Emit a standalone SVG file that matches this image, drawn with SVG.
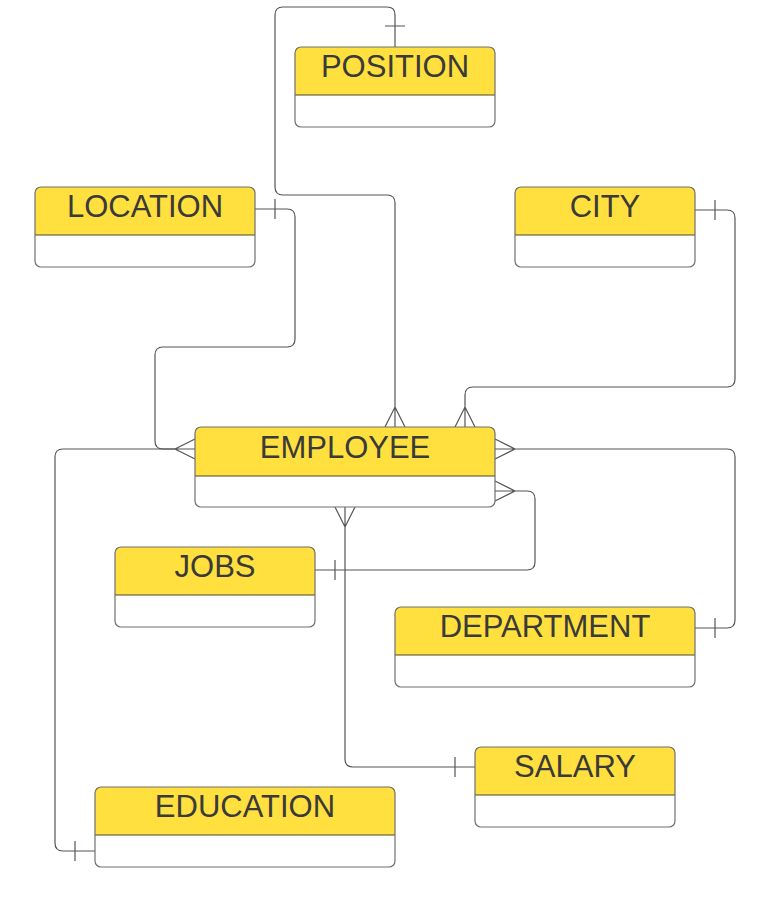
<svg xmlns="http://www.w3.org/2000/svg" width="765" height="921" viewBox="0 0 765 921">
<style>
.bg{fill:#ffffff}
.hd{fill:#FFE03E}
.bx{fill:none;stroke:#707070;stroke-width:1.2}
.sep{stroke:#4a4a2a;stroke-width:1.2}
.t{font-family:"Liberation Sans",Arial,sans-serif;font-size:31px;fill:#3a3a3a;text-anchor:middle}
.c{fill:none;stroke:#555555;stroke-width:1.2}
</style>
<rect width="765" height="921" fill="#ffffff"/>
<g id="connectors">
<path class="c" d="M395,47 V15 Q395,7 387,7 H283 Q275,7 275,15 V187 Q275,195 283,195 H387 Q395,195 395,203 V427 M385,26 H405 M385,427 L395,407 L405,427"/>
<path class="c" d="M255,209 H287 Q295,209 295,217 V339 Q295,347 287,347 H163 Q155,347 155,355 V441 Q155,449 163,449 H195 M275,199 V219 M195,439 L175,449 L195,459"/>
<path class="c" d="M695,210 H727 Q735,210 735,218 V379 Q735,387 727,387 H473 Q465,387 465,395 V427 M715,200 V220 M455,427 L465,407 L475,427"/>
<path class="c" d="M495,449 H727 Q735,449 735,457 V620 Q735,628 727,628 H695 M715,618 V638 M495,439 L515,449 L495,459"/>
<path class="c" d="M495,491 H527 Q535,491 535,499 V562 Q535,570 527,570 H315 M335,560 V580 M495,481 L515,491 L495,501"/>
<path class="c" d="M345,507 V759 Q345,767 353,767 H475 M455,757 V777 M335,507 L345,527 L355,507"/>
<path class="c" d="M95,851 H63 Q55,851 55,843 V457 Q55,449 63,449 H175 M75,841 V861"/>
</g>
<g id="position">
<rect class="bg" x="295" y="47" width="200" height="80" rx="6"/>
<path class="hd" d="M295,95 V53 Q295,47 301,47 H489 Q495,47 495,53 V95 Z"/>
<line class="sep" x1="295" y1="95" x2="495" y2="95"/>
<rect class="bx" x="295" y="47" width="200" height="80" rx="6"/>
<text class="t" x="395" y="77">POSITION</text>
</g>
<g id="location">
<rect class="bg" x="35" y="187" width="220" height="80" rx="6"/>
<path class="hd" d="M35,235 V193 Q35,187 41,187 H249 Q255,187 255,193 V235 Z"/>
<line class="sep" x1="35" y1="235" x2="255" y2="235"/>
<rect class="bx" x="35" y="187" width="220" height="80" rx="6"/>
<text class="t" x="145" y="217">LOCATION</text>
</g>
<g id="city">
<rect class="bg" x="515" y="187" width="180" height="80" rx="6"/>
<path class="hd" d="M515,235 V193 Q515,187 521,187 H689 Q695,187 695,193 V235 Z"/>
<line class="sep" x1="515" y1="235" x2="695" y2="235"/>
<rect class="bx" x="515" y="187" width="180" height="80" rx="6"/>
<text class="t" x="605" y="217">CITY</text>
</g>
<g id="employee">
<rect class="bg" x="195" y="427" width="300" height="80" rx="6"/>
<path class="hd" d="M195,476 V433 Q195,427 201,427 H489 Q495,427 495,433 V476 Z"/>
<line class="sep" x1="195" y1="476" x2="495" y2="476"/>
<rect class="bx" x="195" y="427" width="300" height="80" rx="6"/>
<text class="t" x="345" y="458">EMPLOYEE</text>
</g>
<g id="jobs">
<rect class="bg" x="115" y="547" width="200" height="80" rx="6"/>
<path class="hd" d="M115,595 V553 Q115,547 121,547 H309 Q315,547 315,553 V595 Z"/>
<line class="sep" x1="115" y1="595" x2="315" y2="595"/>
<rect class="bx" x="115" y="547" width="200" height="80" rx="6"/>
<text class="t" x="215" y="577">JOBS</text>
</g>
<g id="department">
<rect class="bg" x="395" y="607" width="300" height="80" rx="6"/>
<path class="hd" d="M395,655 V613 Q395,607 401,607 H689 Q695,607 695,613 V655 Z"/>
<line class="sep" x1="395" y1="655" x2="695" y2="655"/>
<rect class="bx" x="395" y="607" width="300" height="80" rx="6"/>
<text class="t" x="545" y="637">DEPARTMENT</text>
</g>
<g id="salary">
<rect class="bg" x="475" y="747" width="200" height="80" rx="6"/>
<path class="hd" d="M475,795 V753 Q475,747 481,747 H669 Q675,747 675,753 V795 Z"/>
<line class="sep" x1="475" y1="795" x2="675" y2="795"/>
<rect class="bx" x="475" y="747" width="200" height="80" rx="6"/>
<text class="t" x="575" y="777">SALARY</text>
</g>
<g id="education">
<rect class="bg" x="95" y="787" width="300" height="80" rx="6"/>
<path class="hd" d="M95,835 V793 Q95,787 101,787 H389 Q395,787 395,793 V835 Z"/>
<line class="sep" x1="95" y1="835" x2="395" y2="835"/>
<rect class="bx" x="95" y="787" width="300" height="80" rx="6"/>
<text class="t" x="245" y="817">EDUCATION</text>
</g>
</svg>
